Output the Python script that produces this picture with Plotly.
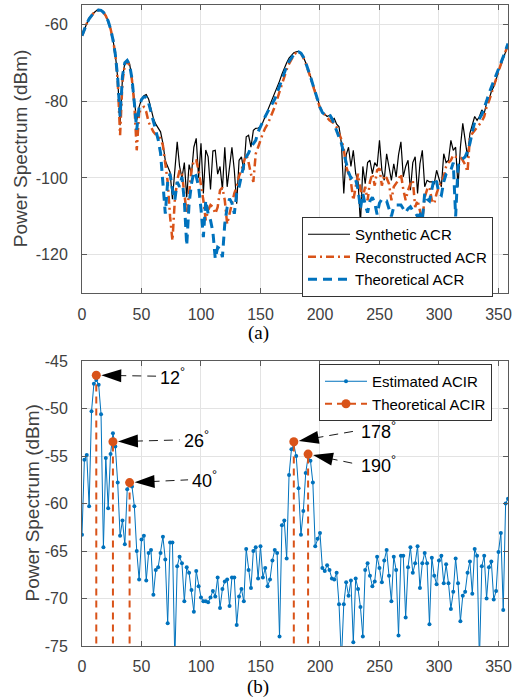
import math
import plotly.graph_objects as go

# ---------------- data ----------------
DEG = list(range(0, 360, 2))  # 0 .. 358 degrees

SYN = [
    -63.0, -61.2, -59.8, -58.6, -57.7, -57.0, -56.5, -56.3, -56.4, -56.9,
    -57.8, -59.2, -61.2, -64.0, -67.8, -74.0, -86.3, -74.0, -70.0, -69.3,
    -70.3, -74.0, -80.0, -85.0, -81.5, -79.5, -78.6, -78.3, -79.5, -82.0,
    -84.5, -86.0, -87.0, -88.0, -91.0, -95.5, -97.0, -98.5, -105.5, -99.0,
    -90.6, -97.0, -100.0, -96.0, -105.0, -96.5, -99.0, -92.0, -89.7, -100.0,
    -91.0, -104.0, -92.7, -94.5, -103.0, -93.0, -92.8, -99.0, -97.0, -103.0,
    -92.0, -102.3, -96.3, -92.0, -98.0, -106.7, -95.4, -94.5, -98.0, -89.3,
    -88.9, -92.0, -87.6, -87.1, -87.0, -86.7, -85.5, -84.0, -82.5, -81.0,
    -79.5, -78.0, -76.5, -74.8, -73.0, -71.3, -70.0, -68.8, -68.0, -67.4,
    -67.2, -67.1, -67.5, -68.5, -70.0, -71.5, -73.5, -75.5, -77.5, -79.5,
    -81.5, -82.8, -83.5, -84.0, -83.7, -85.0, -84.5, -86.0, -86.7, -91.0,
    -104.0, -94.0, -92.0, -97.0, -92.8, -98.9, -101.0, -112.0, -97.0, -101.5,
    -96.0, -95.4, -98.9, -96.0, -97.0, -90.2, -98.0, -100.6, -93.7, -97.0,
    -100.6, -96.3, -99.7, -94.0, -90.6, -99.7, -97.0, -95.4, -103.2, -96.0,
    -94.5, -104.0, -96.3, -92.8, -102.3, -100.6, -101.0, -101.0, -101.5, -98.0,
    -100.0, -102.3, -93.7, -96.0, -95.4, -90.2, -92.8, -92.0, -102.3, -92.0,
    -85.8, -90.2, -94.5, -88.4, -86.0, -84.0, -85.0, -84.0, -82.3, -83.2,
    -80.5, -79.7, -77.5, -76.3, -74.5, -72.0, -70.6, -69.0, -67.5, -65.5,
]

REC = [
    -63.0, -61.2, -59.8, -58.6, -57.7, -57.0, -56.5, -56.3, -56.4, -56.9,
    -57.8, -59.2, -61.2, -64.0, -67.8, -74.5, -88.9, -75.0, -70.5, -69.6,
    -70.8, -74.5, -81.0, -92.8, -83.0, -81.8, -81.5, -82.8, -85.5, -87.0,
    -88.0, -88.7, -89.1, -89.7, -91.5, -96.0, -101.0, -110.0, -116.3, -105.8,
    -100.6, -98.0, -98.9, -104.0, -109.3, -104.0, -98.0, -95.4, -95.4, -98.0,
    -101.5, -105.8, -111.0, -108.4, -107.0, -107.5, -109.3, -107.6, -103.2, -102.5,
    -105.8, -112.0, -109.3, -106.5, -104.0, -102.3, -99.5, -98.0, -96.0, -93.7,
    -96.0, -99.0, -101.0, -93.7, -92.0, -90.0, -88.4, -87.0, -86.0, -84.5,
    -83.2, -81.5, -79.5, -77.5, -75.5, -73.5, -71.8, -70.3, -69.0, -68.0,
    -67.4, -67.2, -67.6, -68.7, -70.2, -71.8, -73.8, -75.9, -78.0, -80.0,
    -81.8, -82.8, -83.6, -84.3, -85.0, -85.4, -85.8, -86.8, -88.4, -90.0,
    -92.5, -97.0, -98.9, -101.0, -105.8, -102.0, -98.9, -103.0, -105.0, -102.3,
    -105.8, -101.0, -98.9, -102.0, -98.0, -97.5, -102.0, -99.3, -100.0, -101.5,
    -105.8, -102.3, -101.5, -100.5, -98.9, -103.0, -105.8, -103.2, -101.5, -100.6,
    -107.6, -105.8, -108.5, -111.0, -105.0, -103.0, -102.3, -105.8, -106.7, -104.0,
    -102.3, -101.0, -99.7, -97.0, -96.0, -95.4, -94.0, -94.5, -94.5, -94.5,
    -95.4, -96.5, -98.4, -89.3, -88.4, -87.6, -86.7, -86.0, -85.3, -84.0,
    -81.5, -80.0, -78.0, -76.3, -74.5, -72.0, -70.2, -68.5, -67.0, -65.5,
]

THE = [
    -63.0, -61.2, -59.8, -58.6, -57.7, -57.0, -56.5, -56.3, -56.4, -56.9,
    -57.8, -59.2, -61.2, -64.0, -67.8, -74.0, -84.0, -73.5, -70.0, -69.4,
    -70.5, -74.2, -80.5, -87.5, -81.5, -79.6, -78.9, -79.0, -80.5, -83.0,
    -85.5, -88.0, -90.0, -93.5, -102.0, -109.3, -101.0, -98.9, -103.0, -105.8,
    -101.0, -102.3, -99.7, -106.0, -117.6, -106.7, -101.5, -98.4, -99.5, -102.3,
    -108.0, -115.4, -105.8, -109.3, -111.0, -114.0, -121.0, -118.0, -118.4, -120.6,
    -111.9, -107.6, -105.4, -106.5, -109.3, -104.0, -102.3, -98.9, -96.5, -94.5,
    -93.5, -92.0, -91.0, -90.2, -88.0, -86.5, -85.3, -84.0, -82.8, -81.8,
    -80.8, -79.5, -77.8, -76.0, -74.2, -72.5, -71.0, -69.7, -68.7, -67.9,
    -67.4, -67.2, -67.5, -68.5, -70.0, -71.6, -73.6, -75.7, -77.8, -79.8,
    -81.6, -83.0, -83.5, -83.2, -83.5, -84.5, -86.0, -88.0, -89.5, -91.0,
    -93.5, -96.0, -98.5, -100.0, -99.5, -100.5, -103.0, -108.0, -104.0, -107.0,
    -109.0, -106.0, -105.0, -106.5, -109.5, -106.5, -105.5, -106.0, -106.0, -108.0,
    -110.0, -107.5, -107.0, -107.0, -107.0, -108.0, -109.0, -108.0, -107.5, -108.5,
    -109.0, -110.0, -109.5, -111.0, -104.0, -105.5, -106.0, -103.0, -100.0, -101.0,
    -104.0, -104.5, -101.0, -99.0, -98.5, -98.0, -96.0, -110.0, -97.0, -95.5,
    -95.0, -94.5, -93.0, -91.0, -88.0, -85.5, -85.0, -84.5, -83.5, -82.0,
    -80.0, -78.0, -76.5, -75.0, -73.0, -71.5, -70.0, -68.5, -66.8, -65.0,
]

EST = [
    -63.3, -55.4, -54.9, -60.3, -50.3, -47.4, -47.0, -47.5, -50.6, -64.6,
    -55.2, -60.5, -54.8, -52.6, -54.0, -57.8, -63.4, -61.8, -64.3, -58.5,
    -57.9, -58.2, -60.3, -65.0, -68.0, -63.8, -63.4, -68.1, -65.2, -64.9,
    -69.6, -67.0, -66.7, -65.2, -63.5, -65.9, -72.6, -64.1, -64.1, -76.5,
    -66.6, -65.6, -66.3, -70.3, -66.7, -67.3, -69.1, -71.4, -67.1, -68.7,
    -69.9, -70.3, -70.3, -70.4, -69.9, -69.2, -69.8, -67.8, -71.0, -69.0,
    -68.2, -68.0, -70.8, -67.8, -67.8, -72.8, -69.8, -69.0, -70.3, -64.8,
    -67.0, -68.9, -65.0, -64.6, -67.9, -64.5, -67.8, -66.8, -68.7, -68.0,
    -66.0, -64.9, -65.2, -74.0, -62.3, -61.8, -65.8, -57.0, -54.3, -53.8,
    -55.0, -58.4, -63.3, -60.8, -56.8, -55.1, -55.5, -57.8, -64.5, -63.7,
    -63.1, -66.8, -67.1, -66.5, -67.0, -67.9, -68.0, -67.3, -70.6, -76.5,
    -70.6, -68.3, -69.7, -68.1, -74.6, -67.9, -69.0, -70.9, -74.0, -67.0,
    -66.3, -67.6, -68.7, -68.2, -65.6, -66.8, -68.3, -66.0, -64.9, -67.6,
    -70.3, -65.6, -67.0, -73.9, -65.5, -65.5, -72.0, -66.7, -64.6, -67.3,
    -66.3, -64.5, -68.9, -66.3, -65.2, -66.3, -72.7, -65.7, -67.6, -68.5,
    -66.0, -65.5, -68.4, -66.4, -68.4, -71.1, -69.3, -65.8, -68.4, -72.4,
    -69.7, -69.3, -67.3, -66.1, -69.5, -64.8, -65.5, -76.5, -66.6, -65.5,
    -70.0, -66.7, -66.1, -70.1, -69.2, -65.1, -63.1, -71.2, -60.0, -59.5,
]

PEAK_DEG = [12, 26, 40, 178, 190]
PEAK_DB = [-46.5, -53.5, -57.8, -53.5, -54.8]
PEAK_LABELS = ["12", "26", "40", "178", "190"]
# left edge of each label text (data coordinates of panel b)
LABEL_X = [63.9, 83.8, 90.8, 232.8, 232.8]
LABEL_Y = [-46.6, -53.3, -57.5, -52.3, -55.9]
STEM_BASE = -100.0

X_TICKS = [0, 50, 100, 150, 200, 250, 300, 350]
TOP_Y_TICKS = [-120, -100, -80, -60]
BOT_Y_TICKS = [-75, -70, -65, -60, -55, -50, -45]

assert len(SYN) == len(REC) == len(THE) == len(EST) == len(DEG) == 180

# ---------------- style / layout constants ----------------
W, H = 525, 700
XL, XR = 82.0, 508.0           # plot area, px
TOP_T, TOP_B = 5.0, 293.3
BOT_T, BOT_B = 361.0, 646.0
XRANGE = [0, 358]
TOP_YR = [-130, -55]
BOT_YR = [-75, -45]

BLUE = "#0072BD"
ORANGE = "#D95319"
GRID = "#e3e3e3"
AXC = "#5a5a5a"
TXT = "#404040"
FONT = "Liberation Sans, Arial, sans-serif"

fig = go.Figure()

# ---- panel (a) ----
fig.add_trace(go.Scatter(x=DEG, y=SYN, mode="lines", name="Synthetic ACR",
                         line=dict(color="black", width=1.2),
                         xaxis="x", yaxis="y", legend="legend"))
fig.add_trace(go.Scatter(x=DEG, y=REC, mode="lines", name="Reconstructed ACR",
                         line=dict(color=ORANGE, width=2.5, dash="8px,4px,2px,4px"),
                         xaxis="x", yaxis="y", legend="legend"))
fig.add_trace(go.Scatter(x=DEG, y=THE, mode="lines", name="Theoretical ACR",
                         line=dict(color=BLUE, width=3, dash="9px,6px"),
                         xaxis="x", yaxis="y", legend="legend"))

# ---- panel (b) ----
fig.add_trace(go.Scatter(x=DEG, y=EST, mode="lines+markers", name="Estimated ACIR",
                         line=dict(color=BLUE, width=1),
                         marker=dict(size=4, color=BLUE),
                         xaxis="x2", yaxis="y2", legend="legend2"))
stem_x, stem_y = [], []
for d, v in zip(PEAK_DEG, PEAK_DB):
    stem_x += [d, d, None]
    stem_y += [STEM_BASE, v, None]
fig.add_trace(go.Scatter(x=stem_x, y=stem_y, mode="lines+markers", name="Theoretical ACIR",
                         line=dict(color=ORANGE, width=2, dash="7px,5px"),
                         marker=dict(size=9, color=ORANGE),
                         xaxis="x2", yaxis="y2", legend="legend2"))

# ---- arrows for panel (b) ----
xs = (XR - XL) / (XRANGE[1] - XRANGE[0])
ys = (BOT_B - BOT_T) / (BOT_YR[1] - BOT_YR[0])


def to_px(d, v):
    return XL + (d - XRANGE[0]) * xs, BOT_T + (BOT_YR[1] - v) * ys


def to_data(px, py):
    return XRANGE[0] + (px - XL) / xs, BOT_YR[1] - (py - BOT_T) / ys


STANDOFF, HEAD = 5.0, 19.0
tip_x, tip_y, angles = [], [], []
shaft_x, shaft_y = [], []
for d, v, lx, ly in zip(PEAK_DEG, PEAK_DB, LABEL_X, LABEL_Y):
    px, py = to_px(d, v)
    qx, qy = to_px(lx, ly)
    L = math.hypot(qx - px, qy - py)
    ux, uy = (qx - px) / L, (qy - py) / L
    tx, ty = px + ux * STANDOFF, py + uy * STANDOFF
    bx, by = tx + ux * HEAD, ty + uy * HEAD
    ex, ey = qx - ux * 2, qy - uy * 2
    dtx, dty = to_data(tx, ty)
    tip_x.append(dtx)
    tip_y.append(dty)
    angles.append(math.degrees(math.atan2(-ux, uy)))
    b = to_data(bx - ux * 3, by - uy * 3)
    e = to_data(ex, ey)
    shaft_x += [b[0], e[0], None]
    shaft_y += [b[1], e[1], None]

fig.add_trace(go.Scatter(x=shaft_x, y=shaft_y, mode="lines", showlegend=False,
                         line=dict(color="#1a1a1a", width=1, dash="9px,6px"),
                         xaxis="x2", yaxis="y2", hoverinfo="skip"))
fig.add_trace(go.Scatter(x=tip_x, y=tip_y, mode="markers", showlegend=False,
                         marker=dict(symbol="arrow", size=21, angle=angles,
                                     color="black", line=dict(width=0)),
                         xaxis="x2", yaxis="y2", cliponaxis=False, hoverinfo="skip"))

annotations = []
for lab, lx, ly in zip(PEAK_LABELS, LABEL_X, LABEL_Y):
    annotations.append(dict(x=lx, y=ly, xref="x2", yref="y2", xanchor="left",
                            yanchor="middle", showarrow=False,
                            text=lab + "<sup>°</sup>",
                            font=dict(family=FONT, size=18, color="black")))

# y titles and captions
annotations.append(dict(x=20 / W, y=1 - (TOP_T + TOP_B) / 2 / H, xref="paper", yref="paper",
                        xanchor="center", yanchor="middle",
                        text="Power Spectrum (dBm)", textangle=-90, showarrow=False,
                        font=dict(family=FONT, size=19, color=TXT)))
annotations.append(dict(x=32 / W, y=1 - (BOT_T + BOT_B) / 2 / H, xref="paper", yref="paper",
                        xanchor="center", yanchor="middle",
                        text="Power Spectrum (dBm)", textangle=-90, showarrow=False,
                        font=dict(family=FONT, size=19, color=TXT)))
annotations.append(dict(x=258 / W, y=1 - 333 / H, xref="paper", yref="paper", text="(a)",
                        xanchor="center", yanchor="middle", showarrow=False,
                        font=dict(family="Liberation Serif, Times New Roman, serif", size=19,
                                  color="black")))
annotations.append(dict(x=258 / W, y=1 - 687 / H, xref="paper", yref="paper", text="(b)",
                        xanchor="center", yanchor="middle", showarrow=False,
                        font=dict(family="Liberation Serif, Times New Roman, serif", size=19,
                                  color="black")))


def xaxis(anchor):
    return dict(domain=[XL / W, XR / W], anchor=anchor, range=XRANGE, automargin=False,
                tickmode="array", tickvals=X_TICKS, ticktext=[str(t) for t in X_TICKS],
                showgrid=True, gridcolor=GRID, gridwidth=1, zeroline=False,
                showline=True, linecolor=AXC, linewidth=1, mirror="ticks",
                ticks="inside", ticklen=5, tickcolor=AXC, ticklabelstandoff=6,
                tickfont=dict(family=FONT, size=16, color=TXT))


def yaxis(anchor, dom, rng, tv):
    return dict(domain=dom, anchor=anchor, range=rng, automargin=False,
                tickmode="array", tickvals=tv, ticktext=[str(t) for t in tv],
                showgrid=True, gridcolor=GRID, gridwidth=1, zeroline=False,
                showline=True, linecolor=AXC, linewidth=1, mirror="ticks",
                ticks="inside", ticklen=5, tickcolor=AXC, ticklabelstandoff=10,
                tickfont=dict(family=FONT, size=16, color=TXT))


LEG = dict(xanchor="left", yanchor="top", bgcolor="white", bordercolor="#333333",
           borderwidth=1, font=dict(family=FONT, size=15, color="black"),
           tracegroupgap=0, itemwidth=42)

fig.update_layout(
    width=W, height=H, autosize=False,
    margin=dict(l=0, r=0, t=0, b=0, autoexpand=False),
    paper_bgcolor="white", plot_bgcolor="white",
    font=dict(family=FONT),
    xaxis=xaxis("y"),
    yaxis=yaxis("x", [1 - TOP_B / H, 1 - TOP_T / H], TOP_YR, TOP_Y_TICKS),
    xaxis2=xaxis("y2"),
    yaxis2=yaxis("x2", [1 - BOT_B / H, 1 - BOT_T / H], BOT_YR, BOT_Y_TICKS),
    legend=dict(x=302 / W, y=1 - 217 / H, **LEG),
    legend2=dict(x=319 / W, y=1 - 364 / H, **LEG),
    annotations=annotations,
    showlegend=True,
)

fig.write_html("out.html")
